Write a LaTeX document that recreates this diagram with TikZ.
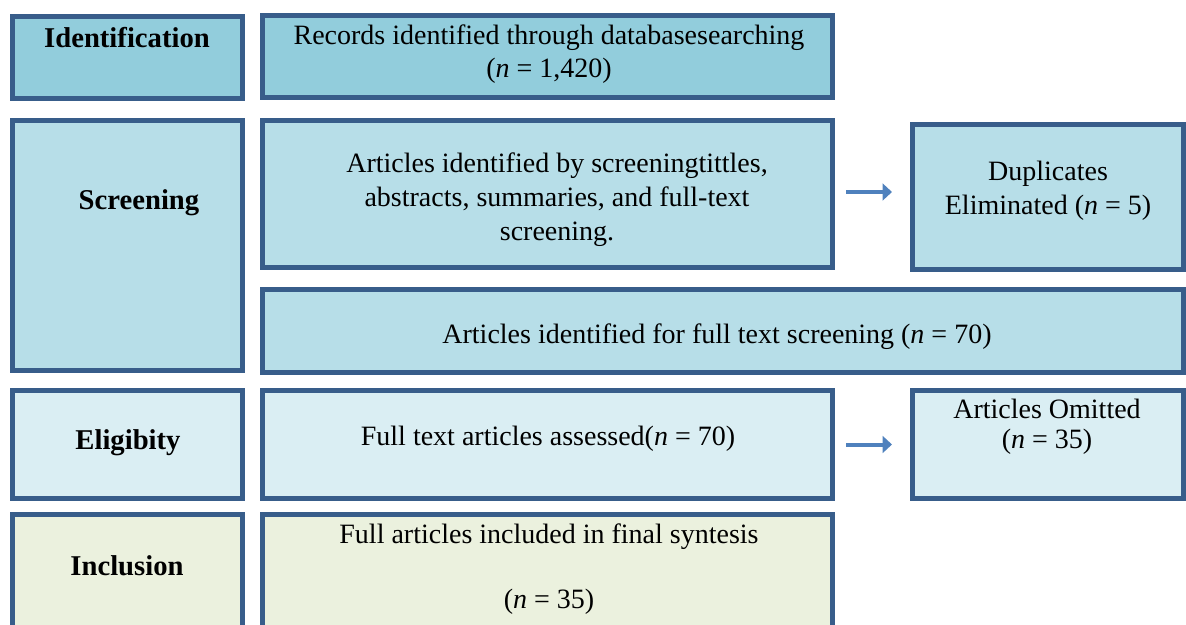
\documentclass[tikz,border=0pt]{standalone}
\usepackage{fontspec}
\setmainfont{Liberation Serif}
\usetikzlibrary{arrows.meta}
\definecolor{bord}{HTML}{385D8A}
\definecolor{idc}{HTML}{92CDDC}
\definecolor{scc}{HTML}{B7DEE8}
\definecolor{elc}{HTML}{DAEEF3}
\definecolor{inc}{HTML}{EBF1DE}
\definecolor{arrowc}{HTML}{4F81BD}
\newcommand\mybox[6]{%
  \pgfmathsetmacro\bw{(#5-#3-5)*0.75}%
  \pgfmathsetmacro\bh{(#6-#4-5)*0.75}%
  \node[box, fill=#2, minimum width=\bw pt, minimum height=\bh pt] (#1) at ({(#3+#5)/2},{(#4+#6)/2}) {};}
\begin{document}
\begin{tikzpicture}[x=0.75pt,y=-0.75pt,
  box/.style={draw=bord, line width=3.75pt, inner sep=0pt},
  txt/.style={font=\fontsize{21}{24.5}\selectfont, align=center, inner sep=0pt},
  hd/.style={font=\fontsize{21.5}{24.5}\selectfont\bfseries, align=center, inner sep=0pt},
  arr/.style={draw=arrowc, line width=3pt, -{Triangle[length=7pt,width=12.5pt]}}]
\useasboundingbox (0,0) rectangle (1186,625);
\clip (0,0) rectangle (1186,625);
\mybox{id}{idc}{10}{14}{245}{101}
\mybox{rec}{idc}{260}{13}{835}{100}
\mybox{scr}{scc}{10}{118}{245}{373}
\mybox{ais}{scc}{260}{118}{835}{270}
\mybox{dup}{scc}{910}{122}{1186}{272}
\mybox{aif}{scc}{260}{287}{1186}{375}
\mybox{eli}{elc}{10}{388}{245}{501}
\mybox{fta}{elc}{260}{388}{835}{501}
\mybox{omi}{elc}{910}{388}{1186}{501}
\mybox{inc}{inc}{10}{512}{245}{650}
\mybox{fai}{inc}{260}{512}{835}{650}
\node[hd] (tid) at (127,38) {Identification};
\node[txt] (trec) at (549,54) {Records identified through databasesearching\\(\textit{n} = 1,420)};
\node[hd] (tscr) at (139,203) {Screening};
\node[txt, font=\fontsize{21}{25.5}\selectfont] (tais) at (557,200) {Articles identified by screeningtittles,\\abstracts, summaries, and full-text\\screening.};
\node[txt, font=\fontsize{21}{25.5}\selectfont] (tdup) at (1048,191) {Duplicates\\Eliminated (\textit{n} = 5)};
\node[txt] (taif) at (717,337) {Articles identified for full text screening (\textit{n} = 70)};
\node[hd] (teli) at (128,443) {Eligibity};
\node[txt] (tfta) at (548,439) {Full text articles assessed(\textit{n} = 70)};
\node[txt, font=\fontsize{21}{22.5}\selectfont] (tomi) at (1047,427) {Articles Omitted\\(\textit{n} = 35)};
\node[hd] (tinc) at (127,566) {Inclusion};
\node[txt] (tfai) at (549,569) {Full articles included in final syntesis\\[24pt](\textit{n} = 35)};
\draw[arr] ([shift={(11,-2)}]ais.east) -- ([shift={(-18,-5)}]dup.west);
\draw[arr] ([shift={(11,0)}]fta.east) -- ([shift={(-18,0)}]omi.west);
\end{tikzpicture}
\end{document}
